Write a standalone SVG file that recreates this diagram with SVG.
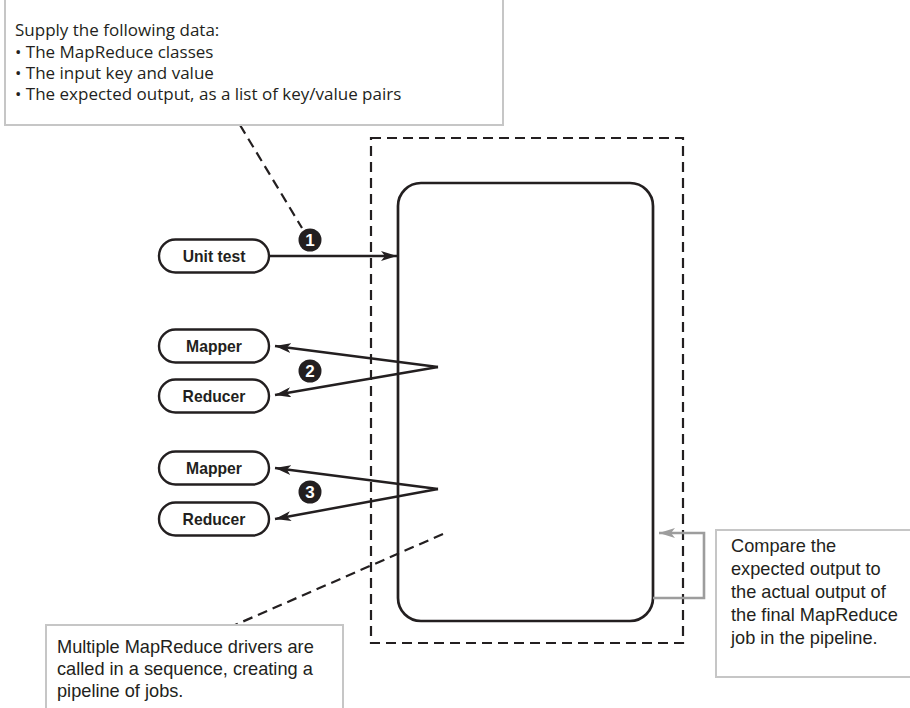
<svg xmlns="http://www.w3.org/2000/svg" width="910" height="708" viewBox="0 0 910 708">
<defs>
<style>
.callout{fill:#fff;stroke:#c6c6c6;stroke-width:2}
.ctext{font-family:"Liberation Sans",Arial,sans-serif;font-size:18.2px;fill:#231f20}
.ttext{font-family:"Open Sans","Liberation Sans",sans-serif;font-size:17px;fill:#231f20}
.pill{fill:#fff;stroke:#231f20;stroke-width:2.4}
.plabel{font-family:"Liberation Sans",Arial,sans-serif;font-size:15.7px;font-weight:bold;fill:#231f20;text-anchor:middle}
.badge{fill:#231f20}
.btext{font-family:"Liberation Sans",Arial,sans-serif;font-size:17px;font-weight:bold;fill:#fff;text-anchor:middle}
.conn{fill:none;stroke:#231f20;stroke-width:2.5}
.dash{fill:none;stroke:#231f20;stroke-width:2.2;stroke-dasharray:10 6}
.gray{fill:none;stroke:#9d9d9d;stroke-width:2.6}
</style>
<marker id="ah" viewBox="0 0 16 10" refX="16" refY="5" markerWidth="16" markerHeight="10" markerUnits="userSpaceOnUse" orient="auto">
<path d="M0,0 L16,5 L0,10 L4,5 Z" fill="#231f20"/>
</marker>
<marker id="ahg" viewBox="0 0 16 10" refX="16" refY="5" markerWidth="16" markerHeight="10" markerUnits="userSpaceOnUse" orient="auto">
<path d="M0,0 L16,5 L0,10 L4,5 Z" fill="#9d9d9d"/>
</marker>
</defs>
<rect width="910" height="708" fill="#fff"/>

<g id="pipeline-frame">
<rect class="dash" x="371" y="138" width="312" height="505"/>
</g>
<g id="pipeline">
<rect x="398" y="183" width="255" height="438" rx="23" fill="none" stroke="#231f20" stroke-width="2.7"/>
</g>

<g id="connectors">
<path class="dash" d="M240,125 L302,228"/>
<path class="dash" d="M443,534 L235,625"/>
<path class="conn" d="M270,256 L397,256" marker-end="url(#ah)"/>
<path class="conn" d="M438,367 L275,346" marker-end="url(#ah)"/>
<path class="conn" d="M438,367 L275,395" marker-end="url(#ah)"/>
<path class="conn" d="M438,489 L275,468" marker-end="url(#ah)"/>
<path class="conn" d="M438,489 L275,519" marker-end="url(#ah)"/>
<path class="gray" d="M653,598 H704 V533 H659" marker-end="url(#ahg)"/>
</g>

<g id="note-supply">
<rect class="callout" x="5" y="-1" width="498" height="126"/>
<text class="ttext" x="15" y="36">Supply the following data:</text>
<text class="ttext" x="15" y="58">• The MapReduce classes</text>
<text class="ttext" x="15" y="79">• The input key and value</text>
<text class="ttext" x="15" y="100">• The expected output, as a list of key/value pairs</text>
</g>

<g id="unit-test">
<rect class="pill" x="159" y="239.5" width="110" height="33" rx="16.5"/>
<text class="plabel" x="214" y="261.5">Unit test</text>
</g>
<g id="mapper-1">
<rect class="pill" x="159" y="329.5" width="110" height="33" rx="16.5"/>
<text class="plabel" x="214" y="351.5">Mapper</text>
</g>
<g id="reducer-1">
<rect class="pill" x="159" y="379.5" width="110" height="33" rx="16.5"/>
<text class="plabel" x="214" y="401.5">Reducer</text>
</g>
<g id="mapper-2">
<rect class="pill" x="159" y="451.5" width="110" height="33" rx="16.5"/>
<text class="plabel" x="214" y="473.5">Mapper</text>
</g>
<g id="reducer-2">
<rect class="pill" x="159" y="502.5" width="110" height="33" rx="16.5"/>
<text class="plabel" x="214" y="524.5">Reducer</text>
</g>

<g id="step-1">
<circle class="badge" cx="310" cy="240" r="11.5"/>
<text class="btext" x="310" y="246">1</text>
</g>
<g id="step-2">
<circle class="badge" cx="310" cy="371" r="11.5"/>
<text class="btext" x="310" y="377">2</text>
</g>
<g id="step-3">
<circle class="badge" cx="310" cy="492" r="11.5"/>
<text class="btext" x="310" y="498">3</text>
</g>

<g id="note-compare">
<rect class="callout" x="716" y="530" width="200" height="147"/>
<text class="ctext" x="731" y="552">Compare the</text>
<text class="ctext" x="731" y="575">expected output to</text>
<text class="ctext" x="731" y="598">the actual output of</text>
<text class="ctext" x="731" y="621">the final MapReduce</text>
<text class="ctext" x="731" y="644">job in the pipeline.</text>
</g>

<g id="note-pipeline">
<rect class="callout" x="46" y="625" width="297" height="100"/>
<text class="ctext" x="57" y="653">Multiple MapReduce drivers are</text>
<text class="ctext" x="57" y="675">called in a sequence, creating a</text>
<text class="ctext" x="57" y="697">pipeline of jobs.</text>
</g>
</svg>
